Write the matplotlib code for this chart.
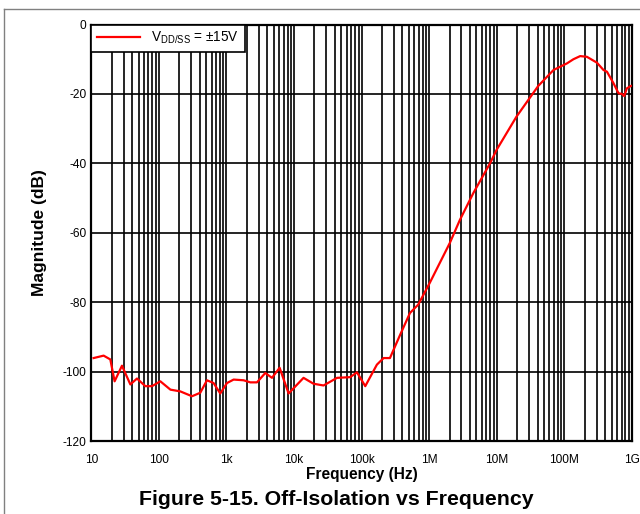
import matplotlib
matplotlib.use('Agg')
from matplotlib import pyplot as plt
from matplotlib.lines import Line2D
from matplotlib.ticker import LogLocator, FixedLocator
import numpy as np

plt.rcParams['font.family'] = ['Liberation Sans', 'DejaVu Sans']
plt.rcParams['mathtext.fontset'] = 'custom'
plt.rcParams['mathtext.rm'] = 'Liberation Sans'
plt.rcParams['axes.unicode_minus'] = False

# frequency (Hz) and off-isolation (dB)
freq = [10.8, 15.2, 19.1, 22.1, 28.4, 37.8, 47.4, 63, 79, 105, 148, 207, 309, 409,
        514, 644, 809, 1016, 1274, 1791, 2249, 2825, 3750, 4710, 6110, 8300,
        13800, 19400, 27300, 43200, 67800, 85100, 113000, 168000, 211000, 262000,
        369000, 519000, 687000, 1.02e6, 2.02e6, 2.84e6, 4.48e6, 7.98e6, 9.93e6,
        1.96e7, 4.10e7, 6.9e7, 1.09e8, 1.36e8, 1.71e8, 2.15e8, 3.03e8, 3.78e8,
        4.26e8, 5.32e8, 6.31e8, 7.08e8, 7.67e8, 8.39e8, 9.64e8]
mag = [-96.1, -95.4, -96.5, -102.8, -98.3, -103.7, -102.0, -104.2, -104.2, -102.8,
       -105.2, -105.7, -107.1, -106.1, -102.5, -103.3, -106.3, -103.3, -102.3,
       -102.5, -103.1, -103.1, -100.4, -101.8, -98.9, -106.3, -101.8, -103.5,
       -104.0, -101.8, -101.6, -100.2, -104.2, -98.0, -96.1, -96.1,
       -89.5, -83.1, -80.7, -74.4, -62.9, -56.3, -48.6, -39.9, -36.1,
       -26.5, -17.7, -13.1, -11.2, -10.0, -9.1, -9.3, -11.0, -13.1,
       -13.6, -16.9, -19.8, -20.0, -20.6, -18.4, -17.7]

xticks = [1e1, 1e2, 1e3, 1e4, 1e5, 1e6, 1e7, 1e8, 1e9]
xlabels = ['10', '100', '1k', '10k', '100k', '1M', '10M', '100M', '1G']
yticks = [0, -20, -40, -60, -80, -100, -120]

fig = plt.figure(figsize=(6.4, 5.14), dpi=100)
ax = fig.add_axes([0.1427, 0.1420, 0.8448, 0.8103])

ax.plot(freq, mag, color='red', linewidth=1.6, label=r'V$_{\mathrm{DD/SS}}$ = ±15V', zorder=3)

ax.set_xscale('log')
ax.set_xlim(10, 1e9)
ax.set_ylim(-120, 0)
ax.xaxis.set_major_locator(FixedLocator(xticks))
ax.set_xticklabels(xlabels)
ax.xaxis.set_minor_locator(LogLocator(base=10, subs=np.arange(2, 10), numticks=20))
ax.yaxis.set_major_locator(FixedLocator(yticks))
ax.tick_params(axis='both', which='both', length=0, labelsize=8.6)
ax.tick_params(axis='x', which='major', pad=9)
ax.tick_params(axis='y', which='major', pad=3.5)
ax.tick_params(axis='x', which='minor', labelbottom=False)

ax.grid(True, which='major', color='black', linewidth=1.2)
ax.grid(True, which='minor', axis='x', color='black', linewidth=1.2)
for s in ax.spines.values():
    s.set_linewidth(1.6)

ax.set_xlabel('Frequency (Hz)', fontsize=11.2, fontweight='bold', labelpad=1)
ax.set_ylabel('Magnitude (dB)', fontsize=12.5, fontweight='bold', va='center')
ax.yaxis.set_label_coords(-0.095, 0.5)

leg = ax.legend(loc='upper left', borderaxespad=0, fancybox=False, framealpha=1,
                edgecolor='black', fontsize=9.8, handlelength=3.2)
leg.get_frame().set_linewidth(1.2)

fig.text(0.525, 0.0175, 'Figure 5-15. Off-Isolation vs Frequency', ha='center', va='baseline',
         fontsize=15.3, fontweight='bold')

# page frame lines
fig.add_artist(Line2D([0.006, 1.0], [0.983, 0.983], color='#808080', linewidth=1))
fig.add_artist(Line2D([0.006, 0.006], [0.0, 0.983], color='#808080', linewidth=1))

fig.savefig('out.png', dpi=100)
